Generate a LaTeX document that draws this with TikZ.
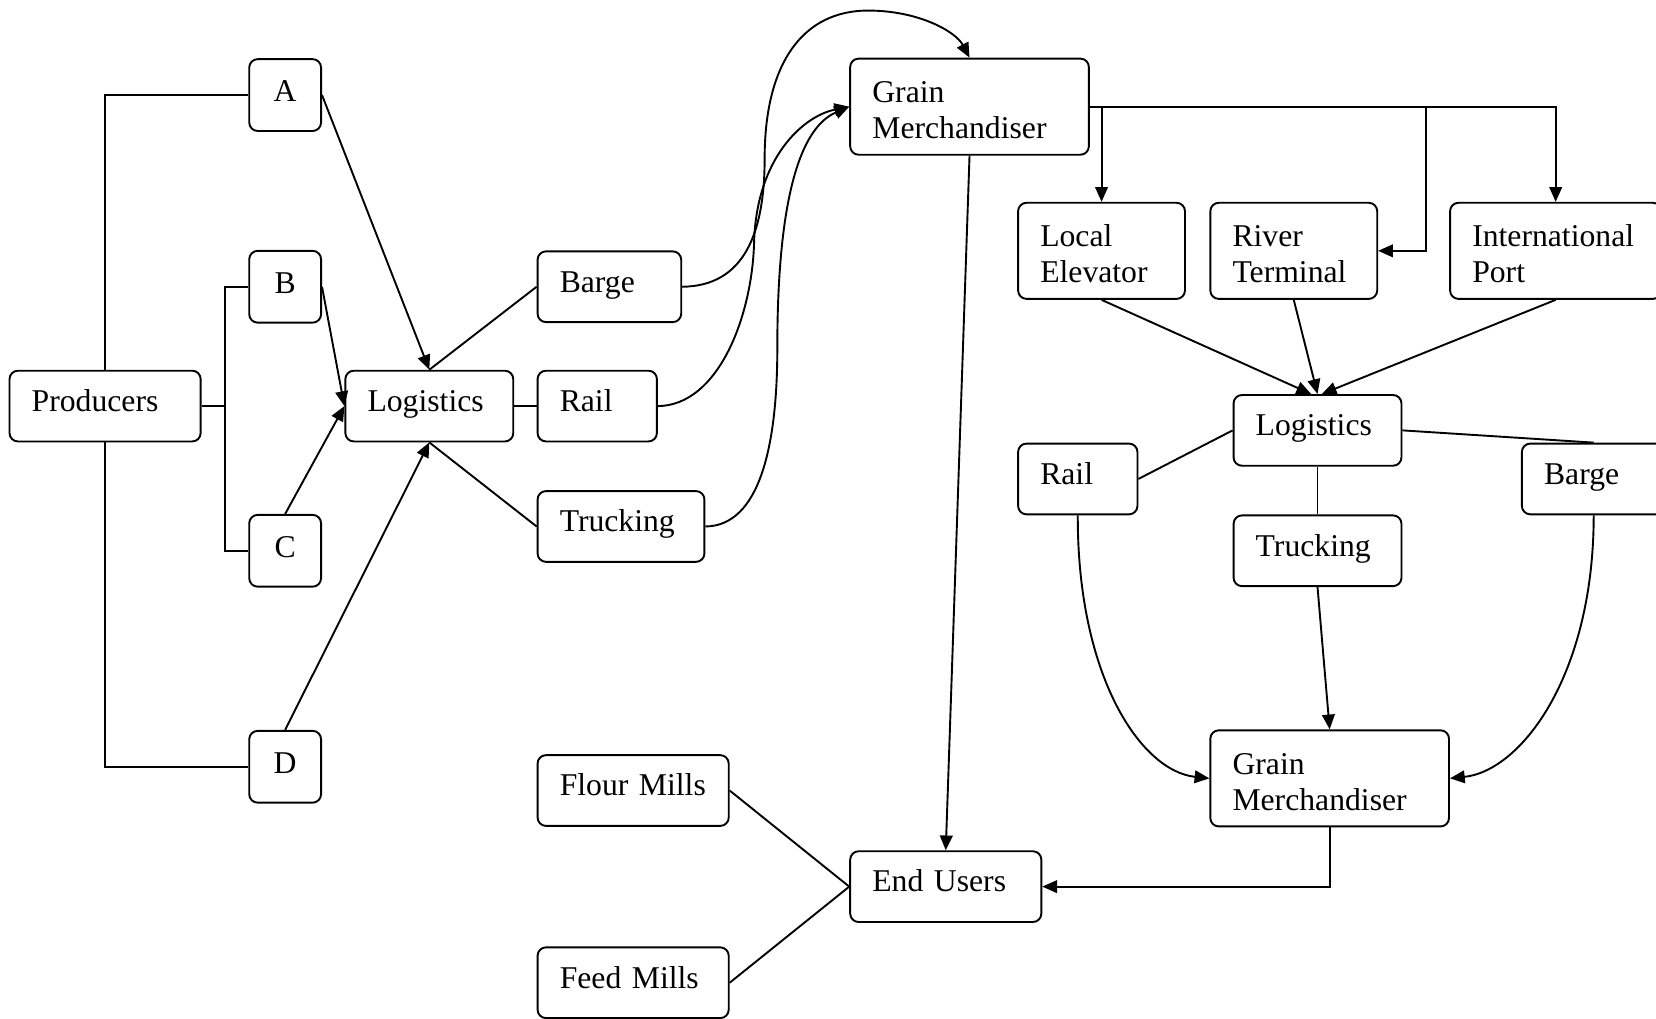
\documentclass[tikz,border=0pt]{standalone}
\usepackage{fontspec}
\setmainfont{Liberation Serif}
\usetikzlibrary{arrows.meta}

\tikzset{
  stage/.style={draw, rounded corners=4pt, align=left, inner xsep=10.5pt, inner ysep=3pt, text width=#1, minimum height=33.5pt},
  oneline/.style={text height=10.5pt, text depth=5.5pt},
  tall/.style={minimum height=45.5pt, text height=10.5pt, text depth=14.5pt},
  letter/.style={draw, rounded corners=4pt, minimum width=34pt, minimum height=34pt, inner sep=0pt, text height=10.5pt, text depth=4pt},
  flow/.style={-{Triangle[length=7pt,width=6pt]}},
}

\begin{document}
\begin{tikzpicture}[x=0.5pt, y=-0.5pt, line width=0.9pt, font=\fontsize{15}{17.2}\selectfont]
	\useasboundingbox (0,0) rectangle (1568,964);
	
	% farm side
	\node[stage=69.5pt, oneline] (prod) at (99.5,384.5) {Producers};
	\node[letter] (a) at (270,90) {A};
	\node[letter] (b) at (270,271.5) {B};
	\node[letter] (c) at (270,521.5) {C};
	\node[letter] (d) at (270,726) {D};
	\node[stage=58.5pt, oneline] (logl) at (406.5,384.5) {Logistics};
	\node[stage=47pt, oneline] (bargel) at (577,271.5) {Barge};
	\node[stage=35.5pt, oneline] (raill) at (565.5,384.5) {Rail};
	\node[stage=58pt, oneline] (truckl) at (588,498.5) {Trucking};
	
	% merchandiser side
	\node[stage=92pt, tall] (gmt) at (918,101) {Grain\\Merchandiser};
	\node[stage=58pt, tall] (locel) at (1043,237.5) {Local\\Elevator};
	\node[stage=58pt, tall] (river) at (1225,237.5) {River\\Terminal};
	\node[stage=79pt, tall] (port) at (1473,237.5) {International\\Port};
	\node[stage=58.5pt, oneline] (logr) at (1247.5,407.5) {Logistics};
	\node[stage=35.5pt, oneline] (railr) at (1020.5,453.5) {Rail};
	\node[stage=58.5pt, oneline] (truckr) at (1247.5,521.5) {Trucking};
	\node[stage=47pt, oneline] (barger) at (1509,453.5) {Barge};
	\node[stage=92pt, tall] (gmb) at (1259,737) {Grain\\Merchandiser};
	
	% users
	\node[stage=69.5pt, oneline] (flour) at (599.5,748.5) {Flour Mills};
	\node[stage=69.5pt, oneline] (feed) at (599.5,930.5) {Feed Mills};
	\node[stage=69.5pt, oneline] (endu) at (895.5,839.5) {End Users};
	
	\coordinate (fork) at (213,384.5);
	\coordinate (rbend) at (1350,101);
	
	\draw (prod.north) |- (a.west);
	\draw (prod.south) |- (d.west);
	\draw (prod.east) -- (fork);
	\draw (b.west) -| (fork) |- (c.west);
	
	\draw[flow] (a.east) -- (logl.north);
	\draw[flow] (b.east) -- (logl.west);
	\draw[flow] (c.north) -- (logl.west);
	\draw[flow] (d.north) -- (logl.south);
	
	\draw (logl.north) -- (bargel.west);
	\draw (logl.east) -- (raill.west);
	\draw (logl.south) -- (truckl.west);
	
	\draw[flow] (bargel.east) .. controls (705,271) and (724,220) .. (724,150)
		.. controls (724,60) and (760,10) .. (822,10)
		.. controls (870,10) and (905,30) .. (gmt.north);
	\draw[flow] (raill.east) .. controls (680,384) and (712,300) .. (714,230)
		.. controls (716,150) and (760,110) .. (gmt.west);
	\draw[flow] (truckl.east) .. controls (720,498) and (736,420) .. (736,330)
		.. controls (736,180) and (760,120) .. (gmt.west);
	
	\draw[flow] (gmt.south) -- (endu.north);
	\draw[flow] (gmt.east) -| (port.north);
	\draw[flow] (gmt.east -| locel.north) -- (locel.north);
	\draw[flow] (rbend) |- (river.east);
	
	\draw[flow] (locel.south) -- ([xshift=-3pt]logr.north);
	\draw[flow] (river.south) -- (logr.north);
	\draw[flow] (port.south) -- ([xshift=2pt]logr.north);
	
	\draw (logr.west) -- (railr.east);
	\draw (logr.east) -- (barger.north);
	\draw (logr.south) -- (truckr.north);
	
	\draw[flow] (truckr.south) -- (gmb.north);
	\draw[flow] (railr.south) .. controls (1020,640) and (1080,730) .. (gmb.west);
	\draw[flow] (barger.south) .. controls (1509,640) and (1440,730) .. (gmb.east);
	\draw[flow] (gmb.south) |- (endu.east);
	
	\draw (flour.east) -- (endu.west);
	\draw (feed.east) -- (endu.west);
\end{tikzpicture}
\end{document}
